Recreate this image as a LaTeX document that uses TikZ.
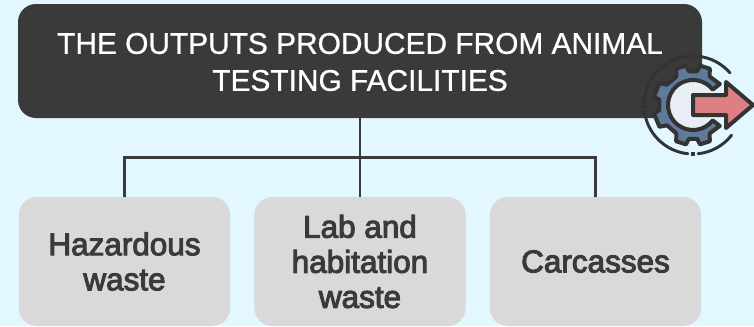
\documentclass[tikz,border=0pt]{standalone}
\usepackage{fontspec}
\setmainfont{Liberation Sans}
\newfontfamily\medfont[FakeBold=3.2]{Liberation Sans}
\newfontfamily\titlefont[FakeBold=0.8]{Liberation Sans}
\definecolor{bgc}{HTML}{E2F7FF}
\definecolor{dark}{HTML}{3A3A3A}
\definecolor{boxg}{HTML}{D9D9D9}
\definecolor{txtg}{HTML}{3A3A3A}
\definecolor{ink}{HTML}{333333}
\definecolor{gearc}{HTML}{607A9C}
\definecolor{hub}{HTML}{E8EEF4}
\definecolor{arrowc}{HTML}{DE7F83}
\tikzset{
 titlebox/.style={draw=none,fill=dark,rounded corners=13.5pt,minimum width=513pt,minimum height=85.5pt,align=center,text=white,font=\fontsize{22.4pt}{27.75pt}\selectfont\titlefont},
 itembox/.style={draw=none,fill=boxg,rounded corners=13.5pt,minimum width=158.5pt,minimum height=96.75pt,align=center,text=txtg,font=\fontsize{23.6pt}{26.3pt}\selectfont\medfont},
 link/.style={draw=dark,line width=1.8pt},
 ringline/.style={draw=ink,line width=2.2pt,line cap=round},
 iconline/.style={draw=ink,line width=3pt,line join=round}
}
\begin{document}
\begin{tikzpicture}[x=0.75pt,y=-0.75pt]
\useasboundingbox (0,0) rectangle (754,326);
\fill[bgc] (0,0) rectangle (754,326);
\node[titlebox] (title) at (360,61) {\phantom{X}};
\node[align=center,text=white,font=\fontsize{22.4pt}{27.75pt}\selectfont\titlefont] (titletext) at (360,62) {THE OUTPUTS PRODUCED FROM ANIMAL\\TESTING FACILITIES};
\node[itembox] (hz) at (124.5,261.5) {Hazardous\\waste};
\node[itembox] (lab) at (360,261.5) {Lab and\\habitation\\waste};
\node[itembox] (car) at (595.5,261.5) {Carcasses};
\coordinate (junction) at (360,157.5);
\draw[link] (title.south) -- (lab.north);
\draw[link] (hz.north) |- (junction) -| (car.north);
% icon
\begin{scope}[shift={(693,105)}]
\draw[ringline] (-41:49) arc (-41:-84:49);
\draw[ringline] (-96:49) arc (-96:-174:49);
\draw[ringline] (-186:49) arc (-186:-264:49);
\draw[ringline] (-276:49) arc (-276:-322:49);
\node[draw=ink,line width=1.2pt,minimum size=3pt,inner sep=0pt] (tickT) at (0,-49) {};
\node[draw=ink,line width=1.2pt,minimum size=3pt,inner sep=0pt] (tickL) at (-49,0) {};
\node[fill=ink,minimum size=3.5pt,inner sep=0pt] (tickB) at (0,49) {};
\fill[hub] (0,0) circle (25);
\draw[iconline,fill=gearc]
 (-38:34)
 -- (-60:33) -- (-65:40) -- (-80:40) -- (-83:34) -- (-97:34) -- (-100:40) -- (-115:40) -- (-120:33)
 -- (-142:33) -- (-147:40) -- (-168:40) -- (-171:34) -- (-189:34) -- (-192:40) -- (-213:40) -- (-218:33)
 -- (-240:33) -- (-245:40) -- (-260:40) -- (-263:34) -- (-277:34) -- (-280:40) -- (-295:40) -- (-300:33) -- (-322:34)
 -- (-322:25) arc (-322:-38:25) -- cycle;
\draw[iconline,fill=arrowc] (0,-10) -- (33,-10) -- (33,-23) -- (60,0) -- (33,23) -- (33,10) -- (0,10) -- cycle;
\end{scope}
\end{tikzpicture}
\end{document}
